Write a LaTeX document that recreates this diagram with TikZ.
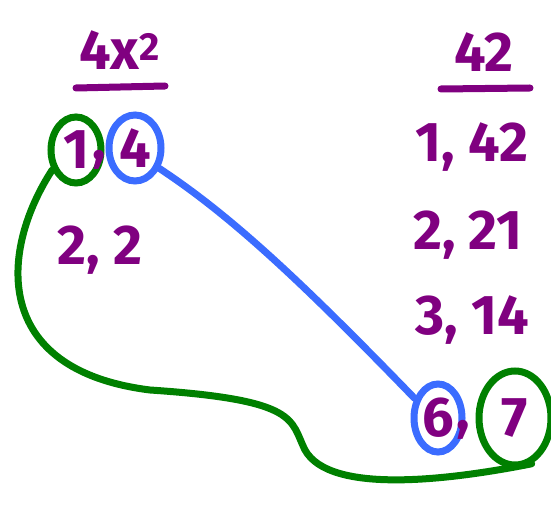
\documentclass[tikz,border=0pt]{standalone}
\usepackage{fontspec}
\setmainfont{Fira Sans}
\usetikzlibrary{shapes.geometric}
\definecolor{inkpurple}{RGB}{128,0,128}
\definecolor{inkgreen}{RGB}{0,128,0}
\definecolor{inkblue}{RGB}{59,108,255}

\begin{document}
\begin{tikzpicture}[x=1pt,y=-1pt,line cap=round,line width=7pt,
    num/.style={text=inkpurple,inner sep=0pt,font=\fontsize{56}{60}\selectfont\bfseries},
    ring/.style={ellipse,inner sep=0pt,line width=7pt,text=inkpurple,font=\fontsize{56}{60}\selectfont\bfseries}]
      \useasboundingbox (0,0) rectangle (551,510);
      % headings
      \node[num] (lhead) at (120,50) {4x\textsuperscript{2}};
      \node[num] (rhead) at (484,52) {42};
      \draw[inkpurple] (76,88) -- (165,86);
      \draw[inkpurple] (441,89) -- (530,88);
      % left column
      \node[ring,draw=inkgreen,minimum width=50pt,minimum height=66pt] (one) at (76,150) {1};
      \node[num] (lcomma) at (99,160) {,};
      \node[ring,draw=inkblue,minimum width=52pt,minimum height=66pt] (four) at (135,148) {4};
      \node[num] (twotwo) at (100,250) {2, 2};
      % right column
      \node[num] (r1) at (472,147) {1, 42};
      \node[num] (r2) at (468,235) {2, 21};
      \node[num] (r3) at (472,320) {3, 14};
      \node[ring,draw=inkblue,minimum width=48pt,minimum height=68pt] (six) at (438,418) {6};
      \node[num] (rcomma) at (463,430) {,};
      \node[ring,draw=inkgreen,minimum width=72pt,minimum height=94pt] (seven) at (515,418) {7\hspace{12pt}};
      % pairings
      \draw[inkblue] (four.-40) .. controls (230,215) and (300,280) .. (six.140);
      \draw[inkgreen] (one.-140) .. controls (0,250) and (-10,370) .. (150,390)
        .. controls (300,400) and (290,420) .. (305,450)
        .. controls (330,495) and (450,480) .. (seven.-70);
    \end{tikzpicture}
\end{document}
